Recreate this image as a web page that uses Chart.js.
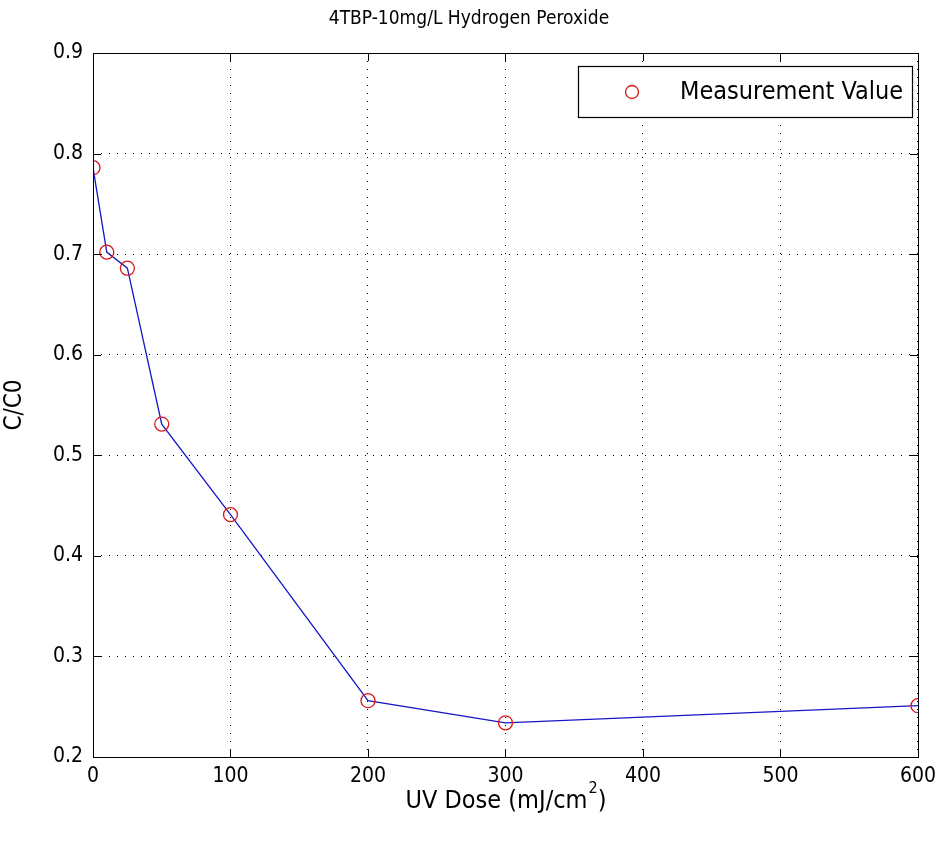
<!DOCTYPE html>
<html>
<head>
<meta charset="utf-8">
<script src="https://cdn.jsdelivr.net/npm/chart.js@4.4.0/dist/chart.umd.min.js"></script>
<style>
html,body{margin:0;padding:0;background:#fff;}
#wrap{width:943px;height:841px;position:relative;}
</style>
</head>
<body>
<div id="wrap"><canvas id="c" width="943" height="841"></canvas></div>
<script>
const chartTitle = "4TBP-10mg/L Hydrogen Peroxide";
const xAxisTitle = "UV Dose (mJ/cm";
const xAxisSup = "2";
const yAxisTitle = "C/C0";
const legendLabel = "Measurement Value";
const doses = [0, 10, 25, 50, 100, 200, 300, 600];
const ratios = [0.786, 0.702, 0.686, 0.531, 0.441, 0.256, 0.234, 0.251];
const xTicks = [0, 100, 200, 300, 400, 500, 600];
const yTicks = [0.2, 0.3, 0.4, 0.5, 0.6, 0.7, 0.8, 0.9];

const FONT = "'Liberation Sans Narrow', 'DejaVu Sans Condensed', 'Liberation Sans', Arial, sans-serif";
const points = doses.map((d, i) => ({x: d, y: ratios[i]}));

const decor = {
  id: 'decor',
  afterDraw(chart) {
    const ctx = chart.ctx;
    const a = chart.chartArea;
    const xs = chart.scales.x, ys = chart.scales.y;
    ctx.save();
    // box
    ctx.strokeStyle = '#000';
    ctx.lineWidth = 1;
    ctx.setLineDash([]);
    ctx.strokeRect(Math.round(a.left) + 0.5, Math.round(a.top) + 0.5, Math.round(a.right - a.left), Math.round(a.bottom - a.top));
    // inward ticks
    const tl = 8;
    ctx.beginPath();
    xTicks.forEach(v => {
      const px = Math.round(xs.getPixelForValue(v)) + 0.5;
      ctx.moveTo(px, a.bottom); ctx.lineTo(px, a.bottom - tl);
      ctx.moveTo(px, a.top); ctx.lineTo(px, a.top + tl);
    });
    yTicks.forEach(v => {
      const py = Math.round(ys.getPixelForValue(v)) + 0.5;
      ctx.moveTo(a.left, py); ctx.lineTo(a.left + tl, py);
      ctx.moveTo(a.right, py); ctx.lineTo(a.right - tl, py);
    });
    ctx.stroke();
    // title
    ctx.fillStyle = '#000';
    ctx.font = "19px " + FONT;
    ctx.textAlign = 'center';
    ctx.textBaseline = 'middle';
    ctx.fillText(chartTitle, 469, 19);
    // x axis title with superscript
    ctx.font = "25px " + FONT;
    const mainW = ctx.measureText(xAxisTitle).width;
    ctx.font = "16px " + FONT;
    const supW = ctx.measureText(xAxisSup).width;
    ctx.font = "25px " + FONT;
    const closeW = ctx.measureText(")").width;
    const total = mainW + supW + closeW;
    let sx = (a.left + a.right) / 2 - total / 2;
    const ty = 801;
    ctx.textAlign = 'left';
    ctx.fillText(xAxisTitle, sx, ty);
    ctx.font = "16px " + FONT;
    ctx.fillText(xAxisSup, sx + mainW + 1, ty - 12);
    ctx.font = "25px " + FONT;
    ctx.fillText(")", sx + mainW + supW + 1, ty);
    // y axis title
    ctx.save();
    ctx.translate(15, (a.top + a.bottom) / 2);
    ctx.rotate(-Math.PI / 2);
    ctx.textAlign = 'center';
    ctx.font = "24px " + FONT;
    ctx.fillText(yAxisTitle, 0, 0);
    ctx.restore();
    // legend
    const lx = 578, ly = 66, lw = 334, lh = 51;
    ctx.fillStyle = '#fff';
    ctx.fillRect(lx, ly, lw, lh);
    ctx.strokeStyle = '#000';
    ctx.lineWidth = 1.2;
    ctx.strokeRect(lx + 0.5, ly + 0.5, lw, lh);
    ctx.beginPath();
    ctx.strokeStyle = '#d01818';
    ctx.lineWidth = 1.3;
    ctx.arc(632, ly + lh / 2 + 0.5, 6.5, 0, Math.PI * 2);
    ctx.stroke();
    ctx.fillStyle = '#000';
    ctx.font = "25px " + FONT;
    ctx.textAlign = 'left';
    ctx.fillText(legendLabel, 680, ly + lh / 2 + 1);
    ctx.restore();
  }
};

new Chart(document.getElementById('c'), {
  type: 'scatter',
  data: {
    datasets: [
      {
        label: 'line',
        data: points,
        showLine: true,
        borderColor: '#1616c8',
        borderWidth: 1.3,
        pointRadius: 0,
        tension: 0,
        order: 2
      },
      {
        label: legendLabel,
        data: points,
        showLine: false,
        pointRadius: 7,
        pointStyle: 'circle',
        pointBorderColor: '#d81818',
        pointBackgroundColor: 'rgba(0,0,0,0)',
        pointBorderWidth: 1.3,
        order: 1
      }
    ]
  },
  options: {
    responsive: false,
    animation: false,
    layout: { padding: { top: 53, right: 22, left: 0, bottom: 0 } },
    plugins: { legend: { display: false }, title: { display: false }, tooltip: { enabled: false } },
    scales: {
      x: {
        type: 'linear',
        min: 0, max: 600,
        afterFit(s) { s.height = 84; },
        afterBuildTicks(s) { s.ticks = xTicks.map(v => ({value: v})); },
        grid: { color: '#000', lineWidth: 1, drawTicks: false },
        border: { display: false, dash: [1, 7] },
        ticks: { color: '#000', font: { family: FONT, size: 21 }, padding: 7, maxRotation: 0,
          callback: v => String(v) }
      },
      y: {
        type: 'linear',
        min: 0.2, max: 0.9,
        afterFit(s) { s.width = 93; },
        afterBuildTicks(s) { s.ticks = yTicks.map(v => ({value: v})); },
        grid: { color: '#000', lineWidth: 1, drawTicks: false },
        border: { display: false, dash: [1, 7] },
        ticks: { color: '#000', font: { family: FONT, size: 21 }, padding: 10,
          callback: v => Number(v).toFixed(1) }
      }
    }
  },
  plugins: [decor]
});
</script>
</body>
</html>
